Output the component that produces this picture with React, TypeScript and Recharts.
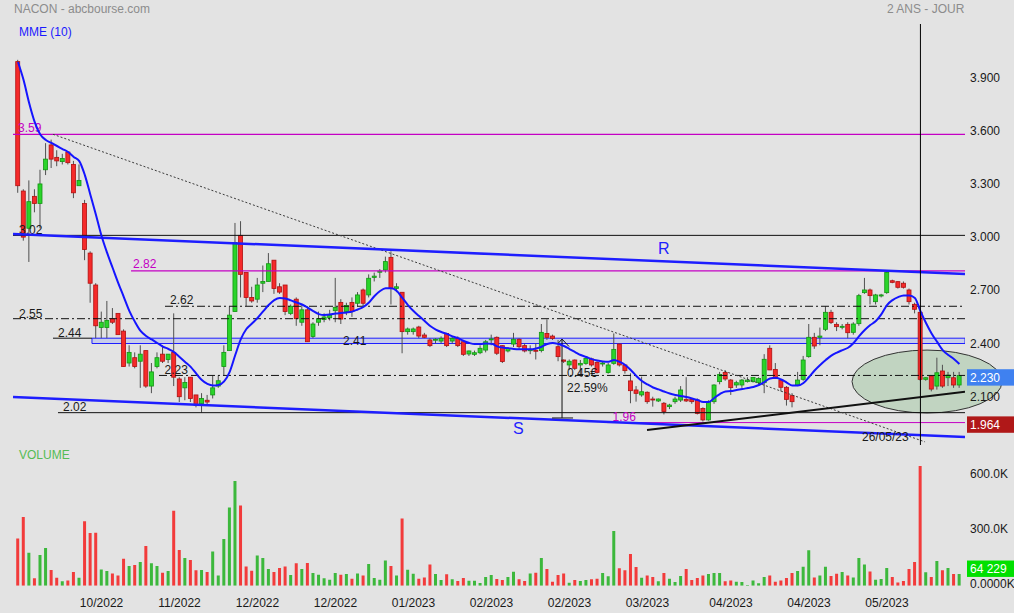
import React from 'react';
import { ComposedChart, Bar, Line, XAxis, YAxis, ReferenceLine, ReferenceArea, Cell } from 'recharts';

const FONT = '"Liberation Sans", Arial, Helvetica, sans-serif';

// ---------------- data ----------------
const OPEN = [
  4.00, 3.27, 3.06, 3.24, 3.20, 3.39, 3.53, 3.46, 3.436, 3.49,
  3.42, 3.30, 3.20, 2.92, 2.74, 2.50, 2.50, 2.55, 2.58, 2.48,
  2.30, 2.33, 2.31, 2.37, 2.17, 2.28, 2.35, 2.32, 2.36, 2.21,
  2.16, 2.22, 2.12, 2.07, 2.09, 2.12, 2.17, 2.28, 2.37, 2.59,
  3.02, 2.81, 2.67, 2.66, 2.75, 2.76, 2.88, 2.73, 2.74, 2.58,
  2.66, 2.53, 2.60, 2.45, 2.53, 2.545, 2.555, 2.595, 2.642, 2.59,
  2.642, 2.637, 2.712, 2.684, 2.783, 2.812, 2.825, 2.896, 2.721, 2.699,
  2.477, 2.477, 2.503, 2.458, 2.43, 2.43, 2.424, 2.467, 2.424, 2.439,
  2.42, 2.351, 2.349, 2.358, 2.373, 2.432, 2.445, 2.398, 2.368, 2.407,
  2.434, 2.398, 2.372, 2.372, 2.370, 2.467, 2.452, 2.392, 2.317, 2.289,
  2.317, 2.289, 2.298, 2.323, 2.304, 2.296, 2.246, 2.298, 2.407, 2.289,
  2.199, 2.148, 2.120, 2.135, 2.097, 2.086, 2.073, 2.054, 2.082, 2.091,
  2.095, 2.095, 2.091, 2.044, 1.979, 2.082, 2.195, 2.247, 2.204, 2.176,
  2.176, 2.195, 2.195, 2.189, 2.189, 2.383, 2.264, 2.204, 2.163, 2.116,
  2.176, 2.208, 2.336, 2.445, 2.445, 2.490, 2.586, 2.518, 2.503, 2.518,
  2.473, 2.522, 2.697, 2.712, 2.646, 2.678, 2.697, 2.764, 2.759, 2.750,
  2.712, 2.631, 2.586, 2.208, 2.227, 2.170, 2.255, 2.217, 2.217, 2.176,
];
const HIGH = [
  4.01, 3.28, 3.33, 3.28, 3.39, 3.54, 3.56, 3.50, 3.48, 3.49,
  3.44, 3.42, 3.22, 2.93, 2.75, 2.59, 2.65, 2.61, 2.58, 2.49,
  2.40, 2.36, 2.40, 2.37, 2.30, 2.36, 2.40, 2.35, 2.58, 2.22,
  2.22, 2.22, 2.12, 2.13, 2.12, 2.23, 2.23, 2.40, 2.62, 3.09,
  3.10, 2.81, 2.73, 2.78, 2.85, 2.92, 2.88, 2.75, 2.74, 2.63,
  2.67, 2.63, 2.62, 2.53, 2.59, 2.58, 2.60, 2.78, 2.66, 2.64,
  2.67, 2.70, 2.72, 2.80, 2.81, 2.83, 2.90, 2.93, 2.75, 2.70,
  2.50, 2.50, 2.51, 2.47, 2.44, 2.44, 2.45, 2.47, 2.45, 2.45,
  2.43, 2.37, 2.37, 2.40, 2.43, 2.46, 2.45, 2.40, 2.39, 2.47,
  2.44, 2.41, 2.40, 2.41, 2.52, 2.546, 2.46, 2.43, 2.32, 2.32,
  2.32, 2.317, 2.33, 2.33, 2.31, 2.31, 2.30, 2.467, 2.41, 2.29,
  2.242, 2.17, 2.223, 2.14, 2.11, 2.10, 2.08, 2.07, 2.11, 2.17,
  2.22, 2.10, 2.10, 2.05, 2.09, 2.18, 2.25, 2.26, 2.21, 2.20,
  2.21, 2.22, 2.22, 2.22, 2.35, 2.40, 2.30, 2.21, 2.17, 2.13,
  2.25, 2.34, 2.52, 2.47, 2.50, 2.62, 2.60, 2.53, 2.52, 2.53,
  2.53, 2.69, 2.78, 2.72, 2.69, 2.69, 2.815, 2.77, 2.76, 2.76,
  2.72, 2.64, 2.59, 2.22, 2.23, 2.33, 2.29, 2.25, 2.25, 2.25,
];
const LOW = [
  3.26, 2.99, 2.87, 3.15, 3.06, 3.36, 3.40, 3.41, 3.42, 3.42,
  3.23, 3.30, 2.88, 2.64, 2.44, 2.44, 2.44, 2.52, 2.46, 2.28,
  2.28, 2.27, 2.16, 2.16, 2.13, 2.27, 2.30, 2.30, 2.17, 2.08,
  2.09, 2.08, 2.05, 2.02, 2.06, 2.10, 2.16, 2.23, 2.37, 2.59,
  2.67, 2.62, 2.64, 2.64, 2.70, 2.76, 2.69, 2.69, 2.57, 2.57,
  2.51, 2.51, 2.42, 2.44, 2.51, 2.53, 2.54, 2.53, 2.52, 2.57,
  2.56, 2.62, 2.62, 2.67, 2.76, 2.78, 2.81, 2.63, 2.70, 2.355,
  2.46, 2.46, 2.44, 2.44, 2.39, 2.41, 2.41, 2.39, 2.41, 2.39,
  2.34, 2.34, 2.34, 2.35, 2.36, 2.40, 2.345, 2.30, 2.36, 2.39,
  2.38, 2.36, 2.35, 2.32, 2.36, 2.43, 2.43, 2.31, 2.30, 2.26,
  2.26, 2.223, 2.29, 2.28, 2.24, 2.28, 2.24, 2.29, 2.28, 2.24,
  2.073, 2.082, 2.11, 2.07, 2.054, 2.08, 2.01, 2.04, 2.07, 2.08,
  2.08, 2.07, 2.01, 1.97, 1.975, 2.07, 2.18, 2.20, 2.12, 2.16,
  2.16, 2.19, 2.19, 2.18, 2.13, 2.26, 2.21, 2.14, 2.06, 2.05,
  2.17, 2.20, 2.33, 2.38, 2.40, 2.48, 2.52, 2.48, 2.49, 2.44,
  2.46, 2.51, 2.69, 2.63, 2.63, 2.67, 2.69, 2.75, 2.72, 2.72,
  2.63, 2.58, 2.20, 2.20, 2.14, 2.15, 2.16, 2.17, 2.16, 2.16,
];
const CLOSE = [
  3.30, 3.01, 3.21, 3.20, 3.31, 3.45, 3.45, 3.44, 3.454, 3.43,
  3.26, 3.33, 2.94, 2.75, 2.51, 2.53, 2.54, 2.53, 2.46, 2.28,
  2.36, 2.28, 2.35, 2.17, 2.25, 2.33, 2.31, 2.35, 2.22, 2.11,
  2.19, 2.10, 2.06, 2.10, 2.08, 2.16, 2.20, 2.36, 2.57, 2.98,
  2.80, 2.67, 2.65, 2.74, 2.76, 2.86, 2.72, 2.70, 2.59, 2.62,
  2.55, 2.60, 2.42, 2.52, 2.55, 2.56, 2.57, 2.614, 2.548, 2.625,
  2.59, 2.684, 2.637, 2.778, 2.79, 2.818, 2.872, 2.721, 2.73, 2.477,
  2.492, 2.492, 2.452, 2.445, 2.398, 2.434, 2.439, 2.398, 2.439, 2.398,
  2.349, 2.368, 2.358, 2.383, 2.42, 2.436, 2.355, 2.308, 2.383, 2.434,
  2.392, 2.368, 2.375, 2.368, 2.473, 2.445, 2.439, 2.336, 2.310, 2.310,
  2.270, 2.298, 2.326, 2.289, 2.246, 2.300, 2.289, 2.377, 2.289, 2.257,
  2.144, 2.129, 2.138, 2.082, 2.094, 2.097, 2.026, 2.063, 2.097, 2.148,
  2.086, 2.082, 2.016, 1.979, 2.082, 2.176, 2.236, 2.210, 2.161, 2.189,
  2.204, 2.204, 2.219, 2.213, 2.321, 2.261, 2.213, 2.163, 2.095, 2.082,
  2.204, 2.317, 2.445, 2.396, 2.452, 2.586, 2.529, 2.505, 2.507, 2.471,
  2.520, 2.680, 2.712, 2.680, 2.684, 2.684, 2.811, 2.755, 2.727, 2.727,
  2.646, 2.603, 2.208, 2.217, 2.153, 2.245, 2.170, 2.232, 2.176, 2.230,
];
// volume in thousands of shares
const VOLUME_K = [
  258, 375, 180, 40, 167, 205, 85, 44, 24, 29,
  75, 44, 351, 287, 289, 89, 80, 67, 56, 147,
  107, 113, 129, 216, 122, 107, 71, 80, 409, 195,
  151, 140, 84, 85, 75, 187, 56, 255, 427, 571,
  438, 105, 82, 165, 151, 91, 75, 96, 105, 58,
  122, 91, 124, 69, 60, 40, 33, 69, 60, 64,
  38, 67, 55, 118, 42, 33, 138, 107, 56, 367,
  87, 65, 38, 45, 116, 64, 31, 62, 35, 25,
  42, 27, 27, 15, 47, 58, 36, 31, 47, 76,
  35, 25, 67, 71, 151, 91, 22, 58, 67, 16,
  31, 25, 31, 35, 38, 69, 51, 298, 95, 84,
  173, 102, 44, 56, 47, 24, 69, 38, 20, 53,
  91, 31, 42, 55, 64, 69, 69, 24, 29, 22,
  20, 4, 29, 13, 47, 55, 22, 29, 42, 69,
  80, 104, 193, 45, 56, 104, 53, 65, 75, 55,
  45, 151, 116, 78, 33, 36, 96, 47, 18, 25,
  91, 129, 653, 73, 47, 135, 84, 96, 64, 64.229,
];
// MME (10) as drawn on the chart
const MME10 = [
  3.998, 3.896, 3.767, 3.659, 3.589, 3.558, 3.541, 3.524, 3.507, 3.490,
  3.462, 3.439, 3.360, 3.248, 3.135, 3.016, 2.921, 2.836, 2.751, 2.672,
  2.593, 2.532, 2.481, 2.452, 2.433, 2.413, 2.393, 2.379, 2.362, 2.334,
  2.306, 2.278, 2.240, 2.204, 2.182, 2.173, 2.176, 2.196, 2.250, 2.345,
  2.435, 2.492, 2.523, 2.554, 2.591, 2.627, 2.655, 2.667, 2.664, 2.653,
  2.641, 2.630, 2.613, 2.593, 2.576, 2.571, 2.573, 2.579, 2.582, 2.585,
  2.590, 2.602, 2.616, 2.641, 2.678, 2.706, 2.721, 2.721, 2.706, 2.667,
  2.627, 2.593, 2.565, 2.537, 2.509, 2.489, 2.475, 2.464, 2.450, 2.440,
  2.424, 2.413, 2.407, 2.407, 2.410, 2.408, 2.394, 2.387, 2.384, 2.379,
  2.377, 2.377, 2.377, 2.382, 2.392, 2.407, 2.413, 2.407, 2.396, 2.379,
  2.362, 2.345, 2.334, 2.322, 2.314, 2.309, 2.307, 2.317, 2.306, 2.289,
  2.261, 2.227, 2.199, 2.179, 2.162, 2.151, 2.139, 2.128, 2.120, 2.114,
  2.108, 2.100, 2.091, 2.080, 2.080, 2.103, 2.125, 2.140, 2.142, 2.148,
  2.153, 2.159, 2.165, 2.176, 2.193, 2.213, 2.217, 2.207, 2.190, 2.173,
  2.173, 2.187, 2.221, 2.258, 2.289, 2.317, 2.342, 2.359, 2.373, 2.386,
  2.413, 2.452, 2.486, 2.514, 2.537, 2.576, 2.627, 2.655, 2.672, 2.681,
  2.681, 2.667, 2.593, 2.526, 2.467, 2.419, 2.373, 2.345, 2.323, 2.294,
];

const X_TICK_INDEX = [15, 29, 43, 57, 71, 85, 99, 113, 128, 142, 156];
const X_TICK_LABELS = ['10/2022', '11/2022', '12/2022', '12/2022', '01/2023', '02/2023', '02/2023', '03/2023', '04/2023', '04/2023', '05/2023'];
const PRICE_TICKS = [2.1, 2.4, 2.7, 3.0, 3.3, 3.6, 3.9];
const VOLUME_TICKS = [0, 300000, 600000];

const LAST_PRICE = 2.23;
const LOW_MARK = 1.964;
const LAST_VOLUME = 64229;
const MARKER_INDEX = 162; // 26/05/23

// horizontal levels
const LEVEL_TOP = 3.59;
const LEVEL_302 = 3.02;
const LEVEL_282 = 2.82;
const LEVEL_262 = 2.62;
const LEVEL_255 = 2.55;
const LEVEL_244 = 2.44;
const LEVEL_241 = 2.41;
const LEVEL_223 = 2.23;
const LEVEL_202 = 2.02;
const LEVEL_196 = 1.964;

// trend lines: [index, price]
const R_LINE: [number, number][] = [[-0.898, 3.028], [170, 2.802]];
const S_LINE: [number, number][] = [[-0.898, 2.108], [170, 1.883]];
const UP_LINE: [number, number][] = [[112.92, 1.922], [170, 2.138]];
const DOTTED_LINE: [number, number][] = [[6.28, 3.59], [162.83, 1.855]];
const MEASURE_X = 97.66;
const MEASURE: [number, number] = [2.435, 1.99];
const ELLIPSE = { x1: 149.72, x2: 176.65, y1: 2.018, y2: 2.373 };

const X_DOMAIN: [number, number] = [-0.898, 170.0];
const PRICE_DOMAIN: [number, number] = [1.8376, 4.2121];
const VOLUME_DOMAIN: [number, number] = [0, 685600];

const data = CLOSE.map((close, i) => ({
  i,
  open: OPEN[i],
  high: HIGH[i],
  low: LOW[i],
  close,
  volume: VOLUME_K[i] * 1000,
  mme: MME10[i],
}));

// ---------------- styling ----------------
const BG = '#e3e3e3';
const RED = '#f52a2a';
const RED_EDGE = '#b01010';
const GREEN = '#2ad42a';
const GREEN_EDGE = '#129612';
const VOL_RED = '#f23b3b';
const VOL_GREEN = '#3cb83c';
const BLUE = '#1e1eff';
const MAGENTA = '#c400c4';
const DASHDOT = '8 3 2 3';

const seg = (pts: [number, number][]) => pts.map(([x, y]) => ({ x, y }));

const Candle = (props: any) => {
  const { x, y, width, height, payload } = props;
  if (x == null || y == null || !payload) return null;
  const top = Math.min(y, y + height);
  const h = Math.abs(height);
  const { open, close, high, low } = payload;
  const span = high - low || 1;
  const py = (v: number) => top + ((high - v) / span) * h;
  const cx = x + width / 2;
  const yo = py(open);
  const yc = py(close);
  const up = close >= open;
  const bTop = Math.min(yo, yc);
  const bH = Math.max(Math.abs(yc - yo), 1);
  return (
    <g>
      <line x1={cx} x2={cx} y1={top} y2={top + h} stroke="#505050" strokeWidth={1} />
      <rect x={x + 0.5} y={bTop} width={width - 1} height={bH} fill={up ? GREEN : RED} stroke={up ? GREEN_EDGE : RED_EDGE} strokeWidth={0.8} />
    </g>
  );
};

const lineLabel = (text: string, color: string, dx: number, dy: number) => (props: any) => {
  const vb = props && props.viewBox;
  if (!vb) return null;
  return (
    <text x={vb.x + dx} y={vb.y + dy} fill={color} fontSize={12} fontFamily={FONT}>
      {text}
    </text>
  );
};

const badge = (text: string, bg: string, shift: number) => (props: any) => {
  const vb = props && props.viewBox;
  if (!vb) return null;
  const cy = vb.y + shift;
  const x0 = vb.x + vb.width + 2;
  return (
    <g>
      <rect x={x0} y={cy - 8.2} width={48} height={16.4} fill={bg} />
      <text x={x0 + 3} y={cy} dy="0.355em" fill="#ffffff" fontSize={12} fontFamily={FONT}>
        {text}
      </text>
    </g>
  );
};

const PriceTick = (p: any) => (
  <text x={970} y={p.y - 2} dy="0.355em" fill="#1a1a1a" fontSize={12} fontFamily={FONT}>
    {Number(p.payload.value).toFixed(3)}
  </text>
);

const VolumeTick = (p: any) => {
  const v = Number(p.payload.value);
  const label = v === 0 ? '0.0000K' : (v / 1000).toFixed(1) + 'K';
  return (
    <text x={970} y={p.y - 2} dy="0.355em" fill="#1a1a1a" fontSize={12} fontFamily={FONT}>
      {label}
    </text>
  );
};

const DateTick = (p: any) => {
  const k = X_TICK_INDEX.indexOf(Number(p.payload.value));
  return (
    <text x={p.x} y={153} dy="0.355em" textAnchor="middle" fill="#1a1a1a" fontSize={12} fontFamily={FONT}>
      {k >= 0 ? X_TICK_LABELS[k] : ''}
    </text>
  );
};

const EllipseShape = (p: any) => (
  <ellipse
    cx={p.x + p.width / 2}
    cy={p.y + p.height / 2}
    rx={Math.abs(p.width) / 2}
    ry={Math.abs(p.height) / 2}
    fill="#8fbf8f"
    fillOpacity={0.4}
    stroke="#333333"
    strokeWidth={1}
  />
);

const candleRange = (d: any) => [d.low, d.high];

export default function App() {
  return (
    <div style={{ position: 'absolute', left: 0, top: 0, width: 1014, height: 613, background: BG, overflow: 'hidden', fontFamily: FONT }}>
      <div style={{ position: 'absolute', left: 0, top: 0 }}>
        <ComposedChart width={1014} height={450} data={data} margin={{ top: 24, right: 0, bottom: 5, left: 13 }}>
          <XAxis dataKey="i" type="number" domain={X_DOMAIN} allowDataOverflow hide />
          <YAxis
            orientation="right"
            width={49}
            type="number"
            domain={PRICE_DOMAIN}
            allowDataOverflow
            ticks={PRICE_TICKS}
            interval={0}
            axisLine={false}
            tickLine={false}
            tick={PriceTick}
          />
          <ReferenceArea x1={ELLIPSE.x1} x2={ELLIPSE.x2} y1={ELLIPSE.y1} y2={ELLIPSE.y2} ifOverflow="hidden" shape={EllipseShape} />
          <ReferenceArea
            x1={13.28}
            x2={170}
            y1={LEVEL_241}
            y2={LEVEL_244}
            ifOverflow="hidden"
            fill="#c8cdea"
            fillOpacity={1}
            stroke={BLUE}
            strokeWidth={1}
            label={lineLabel('2.41', '#1a1a1a', 251, 7.2)}
          />
          <ReferenceLine y={LEVEL_TOP} stroke={MAGENTA} strokeWidth={1.2} ifOverflow="hidden" label={lineLabel('3.59', MAGENTA, 5, -2)} />
          <ReferenceLine y={LEVEL_302} stroke="#111" strokeWidth={1} ifOverflow="hidden" label={lineLabel('3.02', '#1a1a1a', 6, -1)} />
          <ReferenceLine segment={seg([[20.29, LEVEL_282], [170, LEVEL_282]])} stroke={MAGENTA} strokeWidth={1.2} ifOverflow="hidden" label={lineLabel('2.82', MAGENTA, 2, -3)} />
          <ReferenceLine segment={seg([[26.39, LEVEL_262], [170, LEVEL_262]])} stroke="#111" strokeDasharray={DASHDOT} ifOverflow="hidden" label={lineLabel('2.62', '#1a1a1a', 5, -2.7)} />
          <ReferenceLine y={LEVEL_255} stroke="#111" strokeDasharray={DASHDOT} ifOverflow="hidden" label={lineLabel('2.55', '#1a1a1a', 6, -1)} />
          <ReferenceLine segment={seg([[6.28, LEVEL_244], [13.28, LEVEL_244]])} stroke="#111" ifOverflow="hidden" label={lineLabel('2.44', '#1a1a1a', 5, -1.6)} />
          <ReferenceLine segment={seg([[25.31, LEVEL_223], [170, LEVEL_223]])} stroke="#111" strokeDasharray={DASHDOT} ifOverflow="hidden" label={lineLabel('2.23', '#1a1a1a', 5.5, -1.8)} />
          <ReferenceLine segment={seg([[7.18, LEVEL_202], [170, LEVEL_202]])} stroke="#111" ifOverflow="hidden" label={lineLabel('2.02', '#1a1a1a', 5, -1.7)} />
          <ReferenceLine segment={seg([[105.74, LEVEL_196], [170, LEVEL_196]])} stroke={MAGENTA} strokeWidth={1} ifOverflow="hidden" label={lineLabel('1.96', MAGENTA, 5.5, -1.3)} />
          <ReferenceLine segment={seg(DOTTED_LINE)} stroke="#3a3a3a" strokeDasharray="2 2" ifOverflow="hidden" />
          <ReferenceLine segment={seg(R_LINE)} stroke={BLUE} strokeWidth={2.5} ifOverflow="hidden" />
          <ReferenceLine segment={seg(S_LINE)} stroke={BLUE} strokeWidth={2.5} ifOverflow="hidden" />
          <ReferenceLine segment={seg(UP_LINE)} stroke="#111" strokeWidth={2} ifOverflow="hidden" />
          <ReferenceLine segment={seg([[MEASURE_X, MEASURE[0]], [MEASURE_X, MEASURE[1]]])} stroke="#111" ifOverflow="hidden" />
          <ReferenceLine segment={seg([[95.87, MEASURE[1]], [99.64, MEASURE[1]]])} stroke="#111" ifOverflow="hidden" />
          <ReferenceLine segment={seg([[MEASURE_X, MEASURE[0]], [96.94, 2.41]])} stroke="#111" ifOverflow="hidden" />
          <ReferenceLine segment={seg([[MEASURE_X, MEASURE[0]], [98.92, 2.393]])} stroke="#111" ifOverflow="hidden" />
          <Bar dataKey={candleRange} barSize={5} shape={Candle} isAnimationActive={false} />
          <Line dataKey="mme" type="monotone" stroke="#1515ff" strokeWidth={2} dot={false} activeDot={false} isAnimationActive={false} />
          <ReferenceLine x={MARKER_INDEX} stroke="#000" strokeWidth={1} />
          <ReferenceLine y={LAST_PRICE} stroke="none" label={badge('2.230', '#3f81f0', 2)} />
          <ReferenceLine y={LOW_MARK} stroke="none" label={badge('1.964', '#b01818', 2)} />
        </ComposedChart>
      </div>
      <div style={{ position: 'absolute', left: 0, top: 450 }}>
        <ComposedChart width={1014} height={163} data={data} margin={{ top: 10, right: 0, bottom: 0, left: 13 }}>
          <XAxis
            dataKey="i"
            type="number"
            domain={X_DOMAIN}
            allowDataOverflow
            ticks={X_TICK_INDEX}
            interval={0}
            height={27.3}
            axisLine={false}
            tickLine={false}
            tick={DateTick}
          />
          <YAxis
            orientation="right"
            width={49}
            type="number"
            domain={VOLUME_DOMAIN}
            allowDataOverflow
            ticks={VOLUME_TICKS}
            interval={0}
            axisLine={false}
            tickLine={false}
            tick={VolumeTick}
          />
          <Bar dataKey="volume" barSize={3} isAnimationActive={false}>
            {data.map((d) => (
              <Cell key={d.i} fill={d.close >= d.open ? VOL_GREEN : VOL_RED} />
            ))}
          </Bar>
          <ReferenceLine y={LAST_VOLUME} stroke="none" label={badge('64 229', '#00e000', -5.2)} />
        </ComposedChart>
      </div>
      <svg width={1014} height={613} style={{ position: 'absolute', left: 0, top: 0, pointerEvents: 'none' }}>
        <g fontFamily={FONT} fontSize={12}>
          <text x={14} y={13} fill="#8c8c8c">NACON - abcbourse.com</text>
          <text x={887} y={13} fill="#8c8c8c">2 ANS - JOUR</text>
          <text x={19} y={36.3} fill="#1a1aff">MME (10)</text>
          <text x={19} y={459.3} fill="#55bb55">VOLUME</text>
          <text x={658} y={253.7} fill={BLUE} fontSize={16}>R</text>
          <text x={513} y={433.7} fill={BLUE} fontSize={16}>S</text>
          <text x={567} y={377.3} fill="#1a1a1a">0.45€</text>
          <text x={567} y={392} fill="#1a1a1a">22.59%</text>
          <text x={862} y={441.3} fill="#1a1a1a">26/05/23</text>
        </g>
      </svg>
    </div>
  );
}
